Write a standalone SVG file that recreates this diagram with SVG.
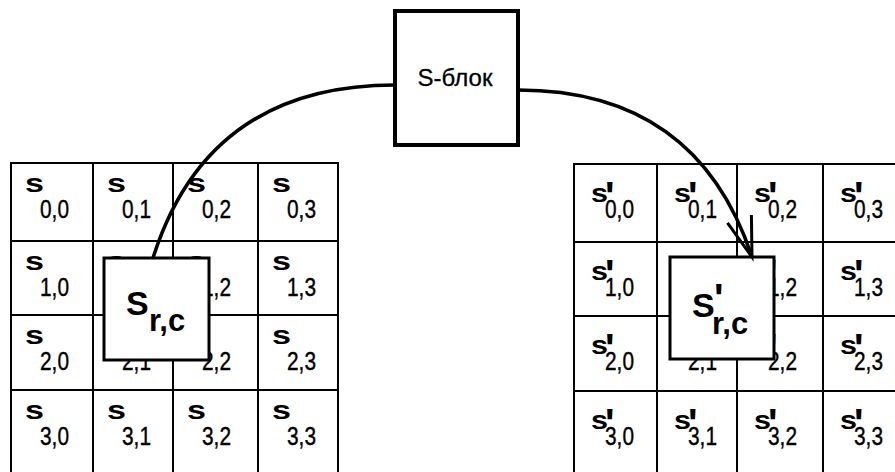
<svg xmlns="http://www.w3.org/2000/svg" width="895" height="472" viewBox="0 0 895 472">
  <style>
    .frame { fill: none; stroke: #000; stroke-width: 2; }
    .box { fill: #fff; stroke: #000; stroke-width: 3; }
    .sbox { fill: #fff; stroke: #000; stroke-width: 4; }
    .wire { fill: none; stroke: #000; stroke-width: 3.5; }
    text { font-family: "Liberation Sans", Arial, sans-serif; fill: #000; }
    .s { font-size: 25px; font-weight: bold; }
    .p { font-size: 40px; font-weight: bold; }
    .sub { font-size: 26px; stroke: #000; stroke-width: 0.4px; }
    .big { font-size: 34px; font-weight: bold; }
    .bigsub { font-size: 31px; font-weight: bold; }
    .title { font-size: 24px; text-anchor: middle; stroke: #000; stroke-width: 0.3px; }
  </style>
  <defs>
    <marker id="open-arrow" markerUnits="userSpaceOnUse" viewBox="-46 -18 50 36" refX="0" refY="0"
            markerWidth="50" markerHeight="36" orient="auto" overflow="visible">
      <path d="M-40,-12.6 L0,0 L-40,12.6" fill="none" stroke="#000" stroke-width="3"/>
    </marker>
  </defs>

  <rect width="895" height="472" fill="#fff"/>

  <!-- input state matrix -->
  <g id="state-in">
    <rect class="frame" x="11" y="163" width="327" height="311"/>
    <path class="frame" d="M93,163V474M173,163V474M258,163V474M11,241H338M11,315H338M11,390H338"/>
    <g id="in-row0">
      <text class="s" x="25" y="192" textLength="19" lengthAdjust="spacingAndGlyphs">s</text><text class="sub" x="40" y="218" textLength="29" lengthAdjust="spacingAndGlyphs">0,0</text>
      <text class="s" x="107" y="192" textLength="19" lengthAdjust="spacingAndGlyphs">s</text><text class="sub" x="122" y="218" textLength="29" lengthAdjust="spacingAndGlyphs">0,1</text>
      <text class="s" x="187" y="192" textLength="19" lengthAdjust="spacingAndGlyphs">s</text><text class="sub" x="202" y="218" textLength="29" lengthAdjust="spacingAndGlyphs">0,2</text>
      <text class="s" x="272" y="192" textLength="19" lengthAdjust="spacingAndGlyphs">s</text><text class="sub" x="287" y="218" textLength="29" lengthAdjust="spacingAndGlyphs">0,3</text>
    </g>
    <g id="in-row1">
      <text class="s" x="25" y="270" textLength="19" lengthAdjust="spacingAndGlyphs">s</text><text class="sub" x="40" y="296" textLength="29" lengthAdjust="spacingAndGlyphs">1,0</text>
      <text class="s" x="107" y="270" textLength="19" lengthAdjust="spacingAndGlyphs">s</text><text class="sub" x="122" y="296" textLength="29" lengthAdjust="spacingAndGlyphs">1,1</text>
      <text class="s" x="187" y="270" textLength="19" lengthAdjust="spacingAndGlyphs">s</text><text class="sub" x="202" y="296" textLength="29" lengthAdjust="spacingAndGlyphs">1,2</text>
      <text class="s" x="272" y="270" textLength="19" lengthAdjust="spacingAndGlyphs">s</text><text class="sub" x="287" y="296" textLength="29" lengthAdjust="spacingAndGlyphs">1,3</text>
    </g>
    <g id="in-row2">
      <text class="s" x="25" y="344" textLength="19" lengthAdjust="spacingAndGlyphs">s</text><text class="sub" x="40" y="370" textLength="29" lengthAdjust="spacingAndGlyphs">2,0</text>
      <text class="s" x="107" y="344" textLength="19" lengthAdjust="spacingAndGlyphs">s</text><text class="sub" x="122" y="370" textLength="29" lengthAdjust="spacingAndGlyphs">2,1</text>
      <text class="s" x="187" y="344" textLength="19" lengthAdjust="spacingAndGlyphs">s</text><text class="sub" x="202" y="370" textLength="29" lengthAdjust="spacingAndGlyphs">2,2</text>
      <text class="s" x="272" y="344" textLength="19" lengthAdjust="spacingAndGlyphs">s</text><text class="sub" x="287" y="370" textLength="29" lengthAdjust="spacingAndGlyphs">2,3</text>
    </g>
    <g id="in-row3">
      <text class="s" x="25" y="419" textLength="19" lengthAdjust="spacingAndGlyphs">s</text><text class="sub" x="40" y="445" textLength="29" lengthAdjust="spacingAndGlyphs">3,0</text>
      <text class="s" x="107" y="419" textLength="19" lengthAdjust="spacingAndGlyphs">s</text><text class="sub" x="122" y="445" textLength="29" lengthAdjust="spacingAndGlyphs">3,1</text>
      <text class="s" x="187" y="419" textLength="19" lengthAdjust="spacingAndGlyphs">s</text><text class="sub" x="202" y="445" textLength="29" lengthAdjust="spacingAndGlyphs">3,2</text>
      <text class="s" x="272" y="419" textLength="19" lengthAdjust="spacingAndGlyphs">s</text><text class="sub" x="287" y="445" textLength="29" lengthAdjust="spacingAndGlyphs">3,3</text>
    </g>
  </g>

  <!-- output state matrix -->
  <g id="state-out">
    <rect class="frame" x="574" y="164" width="331" height="310"/>
    <path class="frame" d="M657,164V474M737,164V474M823,164V474M574,242H905M574,316H905M574,391H905"/>
    <g id="out-row0">
      <text class="s" x="591" y="202" textLength="17" lengthAdjust="spacingAndGlyphs">s</text><text class="p" x="605" y="210">'</text><text class="sub" x="605" y="218" textLength="29" lengthAdjust="spacingAndGlyphs">0,0</text>
      <text class="s" x="674" y="202" textLength="17" lengthAdjust="spacingAndGlyphs">s</text><text class="p" x="688" y="210">'</text><text class="sub" x="688" y="218" textLength="29" lengthAdjust="spacingAndGlyphs">0,1</text>
      <text class="s" x="754" y="202" textLength="17" lengthAdjust="spacingAndGlyphs">s</text><text class="p" x="768" y="210">'</text><text class="sub" x="768" y="218" textLength="29" lengthAdjust="spacingAndGlyphs">0,2</text>
      <text class="s" x="840" y="202" textLength="17" lengthAdjust="spacingAndGlyphs">s</text><text class="p" x="854" y="210">'</text><text class="sub" x="854" y="218" textLength="29" lengthAdjust="spacingAndGlyphs">0,3</text>
    </g>
    <g id="out-row1">
      <text class="s" x="591" y="280" textLength="17" lengthAdjust="spacingAndGlyphs">s</text><text class="p" x="605" y="288">'</text><text class="sub" x="605" y="296" textLength="29" lengthAdjust="spacingAndGlyphs">1,0</text>
      <text class="s" x="674" y="280" textLength="17" lengthAdjust="spacingAndGlyphs">s</text><text class="p" x="688" y="288">'</text><text class="sub" x="688" y="296" textLength="29" lengthAdjust="spacingAndGlyphs">1,1</text>
      <text class="s" x="754" y="280" textLength="17" lengthAdjust="spacingAndGlyphs">s</text><text class="p" x="768" y="288">'</text><text class="sub" x="768" y="296" textLength="29" lengthAdjust="spacingAndGlyphs">1,2</text>
      <text class="s" x="840" y="280" textLength="17" lengthAdjust="spacingAndGlyphs">s</text><text class="p" x="854" y="288">'</text><text class="sub" x="854" y="296" textLength="29" lengthAdjust="spacingAndGlyphs">1,3</text>
    </g>
    <g id="out-row2">
      <text class="s" x="591" y="354" textLength="17" lengthAdjust="spacingAndGlyphs">s</text><text class="p" x="605" y="362">'</text><text class="sub" x="605" y="370" textLength="29" lengthAdjust="spacingAndGlyphs">2,0</text>
      <text class="s" x="674" y="354" textLength="17" lengthAdjust="spacingAndGlyphs">s</text><text class="p" x="688" y="362">'</text><text class="sub" x="688" y="370" textLength="29" lengthAdjust="spacingAndGlyphs">2,1</text>
      <text class="s" x="754" y="354" textLength="17" lengthAdjust="spacingAndGlyphs">s</text><text class="p" x="768" y="362">'</text><text class="sub" x="768" y="370" textLength="29" lengthAdjust="spacingAndGlyphs">2,2</text>
      <text class="s" x="840" y="354" textLength="17" lengthAdjust="spacingAndGlyphs">s</text><text class="p" x="854" y="362">'</text><text class="sub" x="854" y="370" textLength="29" lengthAdjust="spacingAndGlyphs">2,3</text>
    </g>
    <g id="out-row3">
      <text class="s" x="591" y="429" textLength="17" lengthAdjust="spacingAndGlyphs">s</text><text class="p" x="605" y="437">'</text><text class="sub" x="605" y="445" textLength="29" lengthAdjust="spacingAndGlyphs">3,0</text>
      <text class="s" x="674" y="429" textLength="17" lengthAdjust="spacingAndGlyphs">s</text><text class="p" x="688" y="437">'</text><text class="sub" x="688" y="445" textLength="29" lengthAdjust="spacingAndGlyphs">3,1</text>
      <text class="s" x="754" y="429" textLength="17" lengthAdjust="spacingAndGlyphs">s</text><text class="p" x="768" y="437">'</text><text class="sub" x="768" y="445" textLength="29" lengthAdjust="spacingAndGlyphs">3,2</text>
      <text class="s" x="840" y="429" textLength="17" lengthAdjust="spacingAndGlyphs">s</text><text class="p" x="854" y="437">'</text><text class="sub" x="854" y="445" textLength="29" lengthAdjust="spacingAndGlyphs">3,3</text>
    </g>
  </g>

  <!-- selected byte, input side -->
  <g id="cell-in">
    <rect class="box" x="104" y="258" width="105" height="102"/>
    <text class="big" x="126" y="315">S</text>
    <text class="bigsub" x="149" y="331">r,c</text>
  </g>

  <!-- selected byte, output side -->
  <g id="cell-out">
    <rect class="box" x="670" y="257" width="104" height="102"/>
    <text class="big" x="692" y="317">S</text>
    <text class="p" x="714" y="312">'</text>
    <text class="bigsub" x="712" y="334">r,c</text>
  </g>

  <!-- substitution box -->
  <g id="sbox">
    <rect class="sbox" x="395" y="11" width="123" height="134"/>
    <text class="title" x="455" y="86">S-блок</text>
  </g>

  <g id="connectors">
    <path class="wire" d="M395,85 C290,85 195,125 153,258"/>
    <path class="wire" d="M518,90 C620,90 710,130 752,257" marker-end="url(#open-arrow)"/>
  </g>
</svg>
